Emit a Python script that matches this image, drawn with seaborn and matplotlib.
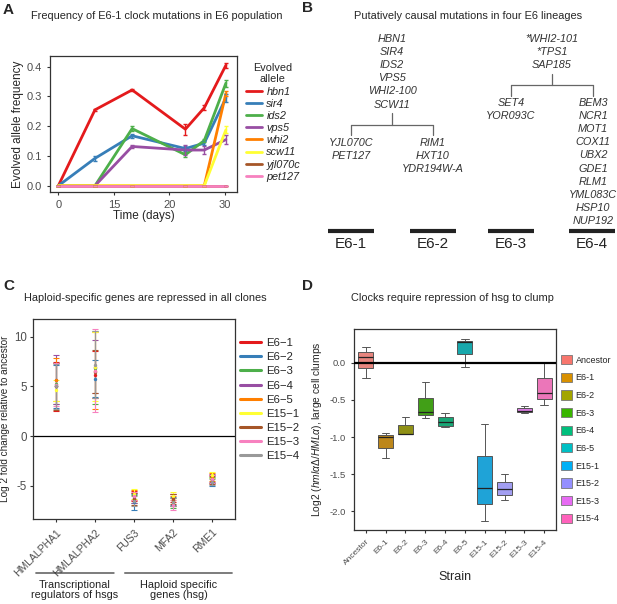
import numpy as np
import pandas as pd
import seaborn as sns
import matplotlib.pyplot as plt
from matplotlib.lines import Line2D
from matplotlib.patches import Patch

# ---- panel A: allele frequencies over time ----
time_labels = ['0', '15', '20', '30']
time_pos = [0, 0.66, 1.33, 2.29, 2.63, 3.02]  # sampling points on the tick-index scale
alleles = ['hbn1', 'sir4', 'ids2', 'vps5', 'whi2', 'scw11', 'yjl070c', 'pet127']
freq_hbn1 = [0, 0.255, 0.322, 0.190, 0.262, 0.405]
freq_sir4 = [0, 0.092, 0.168, 0.125, 0.143, 0.295]
freq_ids2 = [0, 0, 0.192, 0.104, 0.152, 0.345]
freq_vps5 = [0, 0, 0.132, 0.120, 0.120, 0.155]
freq_whi2 = [0, 0, 0, 0, 0, 0.310]
freq_scw11 = [0, 0, 0, 0, 0, 0.188]
freq_yjl070c = [0, 0, 0, 0, 0, 0]
freq_pet127 = [0, 0, 0, 0, 0, 0]
err_hbn1 = [0, 0.004, 0.004, 0.018, 0.008, 0.009]
err_sir4 = [0, 0.009, 0.007, 0.008, 0.006, 0.013]
err_ids2 = [0, 0, 0.008, 0.008, 0.005, 0.012]
err_vps5 = [0, 0, 0.004, 0.016, 0.012, 0.015]
err_whi2 = [0, 0, 0, 0, 0, 0.010]
err_scw11 = [0, 0, 0, 0, 0, 0.012]
err_yjl070c = [0, 0, 0, 0, 0, 0]
err_pet127 = [0, 0, 0, 0, 0, 0]

# ---- panel B: mutations per lineage ----
b_shared_12 = ['HBN1', 'SIR4', 'IDS2', 'VPS5', 'WHI2-100', 'SCW11']
b_e6_1 = ['YJL070C', 'PET127']
b_e6_2 = ['RIM1', 'HXT10', 'YDR194W-A']
b_shared_34 = ['*WHI2-101', '*TPS1', 'SAP185']
b_e6_3 = ['SET4', 'YOR093C']
b_e6_4 = ['BEM3', 'NCR1', 'MOT1', 'COX11', 'UBX2', 'GDE1', 'RLM1', 'YML083C', 'HSP10', 'NUP192']
lineages = ['E6-1', 'E6-2', 'E6-3', 'E6-4']

# ---- panel C: log2 fold change (mean, error) per clone ----
genes = ['HMLALPHA1', 'HMLALPHA2', 'FUS3', 'MFA2', 'RME1']
clones = ['E6-1', 'E6-2', 'E6-3', 'E6-4', 'E6-5', 'E15-1', 'E15-2', 'E15-3', 'E15-4']
lfc_mean = {
    'E6-1':  [5.0, 6.2, -6.0, -6.2, -4.3],
    'E6-2':  [5.0, 5.8, -6.6, -6.5, -4.6],
    'E6-3':  [5.3, 6.9, -6.3, -6.7, -4.4],
    'E6-4':  [5.7, 7.0, -6.2, -6.4, -4.2],
    'E6-5':  [5.7, 6.6, -5.9, -6.5, -4.1],
    'E15-1': [4.6, 7.0, -5.8, -6.0, -3.9],
    'E15-2': [5.0, 6.5, -6.3, -6.3, -4.4],
    'E15-3': [5.2, 6.6, -6.0, -6.9, -4.3],
    'E15-4': [5.0, 7.2, -6.5, -6.6, -4.6],
}
lfc_err = {
    'E6-1':  [2.5, 2.4, 0.5, 0.4, 0.4],
    'E6-2':  [2.2, 1.9, 0.8, 0.4, 0.4],
    'E6-3':  [2.1, 3.7, 0.4, 0.5, 0.3],
    'E6-4':  [2.5, 2.7, 0.5, 0.6, 0.4],
    'E6-5':  [2.2, 3.9, 0.5, 0.5, 0.4],
    'E15-1': [1.1, 3.5, 0.5, 0.4, 0.3],
    'E15-2': [2.4, 2.2, 0.6, 0.5, 0.4],
    'E15-3': [2.2, 4.2, 0.4, 0.5, 0.4],
    'E15-4': [2.3, 3.4, 0.5, 0.4, 0.3],
}

# ---- panel D: clumping ratio per strain (5 replicates each) ----
strains = ['Ancestor', 'E6-1', 'E6-2', 'E6-3', 'E6-4', 'E6-5', 'E15-1', 'E15-2', 'E15-3', 'E15-4']
clump_ratio = {
    'Ancestor': [-0.207, -0.068, 0.080, 0.149, 0.210],
    'E6-1':     [-1.280, -1.140, -1.000, -0.970, -0.946],
    'E6-2':     [-0.962, -0.962, -0.955, -0.840, -0.730],
    'E6-3':     [-0.740, -0.700, -0.667, -0.470, -0.260],
    'E6-4':     [-0.870, -0.847, -0.797, -0.734, -0.675],
    'E6-5':     [-0.058, 0.113, 0.280, 0.300, 0.324],
    'E15-1':    [-2.130, -1.900, -1.690, -1.250, -0.820],
    'E15-2':    [-1.850, -1.780, -1.700, -1.610, -1.500],
    'E15-3':    [-0.680, -0.660, -0.650, -0.608, -0.577],
    'E15-4':    [-0.570, -0.490, -0.400, -0.200, 0.000],
}

set1 = ['#E41A1C', '#377EB8', '#4DAF4A', '#984EA3', '#FF7F00',
        '#FFFF33', '#A65628', '#F781BF', '#999999']
gg10 = ['#F8766D', '#D89000', '#A3A500', '#39B600', '#00BF7D',
        '#00BFC4', '#00B0F6', '#9590FF', '#E76BF3', '#FF62BC']

sns.set_style('ticks')
plt.rcParams['font.family'] = ['Liberation Sans', 'DejaVu Sans']
plt.rcParams['mathtext.fontset'] = 'custom'
plt.rcParams['mathtext.rm'] = 'Liberation Sans'
plt.rcParams['mathtext.it'] = 'Liberation Sans:italic'
plt.rcParams['axes.edgecolor'] = '#333333'
plt.rcParams['xtick.color'] = '#333333'
plt.rcParams['ytick.color'] = '#333333'
plt.rcParams['xtick.labelcolor'] = '#4D4D4D'
plt.rcParams['ytick.labelcolor'] = '#4D4D4D'
plt.rcParams['xtick.major.size'] = 2.5
plt.rcParams['ytick.major.size'] = 2.5

W, H = 617, 604
fig = plt.figure(figsize=(W / 100, H / 100), dpi=100)


def add_ax(l, t, r, b):
    return fig.add_axes([l / W, 1 - b / H, (r - l) / W, (b - t) / H])


def frame(ax):
    for s in ax.spines.values():
        s.set_visible(True)
        s.set_linewidth(0.9)


# ---------- A ----------
axA = add_ax(50, 56, 237, 192)
freqs = [freq_hbn1, freq_sir4, freq_ids2, freq_vps5, freq_whi2, freq_scw11, freq_yjl070c, freq_pet127]
errs = [err_hbn1, err_sir4, err_ids2, err_vps5, err_whi2, err_scw11, err_yjl070c, err_pet127]
dfA = pd.DataFrame([
    {'allele': a, 'time': t, 'freq': f, 'err': e}
    for a, fs, es in zip(alleles, freqs, errs)
    for t, f, e in zip(time_pos, fs, es)
])
palA = dict(zip(alleles, set1[:8]))
sns.lineplot(data=dfA, x='time', y='freq', hue='allele', palette=palA,
             linewidth=2, legend=False, ax=axA)
for a in alleles:
    d = dfA[dfA.allele == a]
    axA.errorbar(d.time, d.freq, yerr=d.err, fmt='none', ecolor=palA[a],
                 elinewidth=1, capsize=1.5, capthick=1)
axA.set_xlim(-0.15, 3.22)
axA.set_ylim(-0.021, 0.436)
axA.set_xticks(range(4))
axA.set_xticklabels(time_labels)
axA.set_yticks([0, 0.1, 0.2, 0.3, 0.4])
axA.tick_params(labelsize=8, width=0.8)
axA.set_xlabel('Time (days)', fontsize=8.5, labelpad=0)
axA.set_ylabel('Evolved allele frequency', fontsize=8.5, labelpad=2)
frame(axA)
handlesA = [Line2D([], [], color=palA[a], lw=2) for a in alleles]
legA = fig.legend(handlesA, alleles, title='Evolved\nallele', frameon=False,
                  loc='upper left', bbox_to_anchor=(236 / W, 1 - 53 / H),
                  prop={'style': 'italic', 'size': 7.8}, title_fontsize=7.8,
                  handlelength=1.5, handletextpad=0.4, labelspacing=0.2)
legA.get_title().set_multialignment('center')
fig.text(3 / W, 1 - 10 / H, 'A', fontsize=11, fontweight='bold', va='center')
fig.text(157 / W, 1 - 16 / H, 'Frequency of E6-1 clock mutations in E6 population',
         fontsize=7.9, ha='center', va='center')

# ---------- B ----------
axB = add_ax(300, 0, 617, 300)
axB.set_xlim(300, 617)
axB.set_ylim(300, 0)
axB.axis('off')
step = 13.1
tree_col = '#666666'


def gene_block(names, x, y0):
    for i, g in enumerate(names):
        axB.text(x, y0 + i * step, g, ha='center', va='center',
                 fontsize=7.8, style='italic', color='#333333')


def fork(x, xl, xr, y_top, y_mid, y_bot):
    axB.plot([x, x], [y_top, y_mid], color=tree_col, lw=0.9)
    axB.plot([xl, xr], [y_mid, y_mid], color=tree_col, lw=0.9)
    axB.plot([xl, xl], [y_mid, y_bot], color=tree_col, lw=0.9)
    axB.plot([xr, xr], [y_mid, y_bot], color=tree_col, lw=0.9)


gene_block(b_shared_12, 392, 39)
fork(392, 351, 433, 113, 125, 135)
gene_block(b_e6_1, 351, 143)
gene_block(b_e6_2, 433, 143)
gene_block(b_shared_34, 552, 39)
fork(552, 511, 593, 74, 85, 96)
gene_block(b_e6_3, 511, 103)
gene_block(b_e6_4, 593, 103)
for xc, lab in zip([351, 433, 511, 592], lineages):
    axB.plot([xc - 23, xc + 23], [231, 231], color='#222222', lw=3, solid_capstyle='butt')
    axB.text(xc, 244, lab, ha='center', va='center', fontsize=11, color='#222222')
fig.text(302 / W, 1 - 8 / H, 'B', fontsize=11, fontweight='bold', va='center')
fig.text(468 / W, 1 - 16 / H, 'Putatively causal mutations in four E6 lineages',
         fontsize=7.9, ha='center', va='center')

# ---------- C ----------
axC = add_ax(33, 319, 235, 519)
xpos = np.arange(len(genes))
for c, col in zip(clones, set1):
    axC.errorbar(xpos, lfc_mean[c], yerr=lfc_err[c], fmt='none', ecolor=col,
                 elinewidth=0.8, capsize=2, capthick=0.8)
    sns.scatterplot(x=xpos, y=lfc_mean[c], color=col, s=6, linewidth=0, ax=axC, zorder=3)
axC.axhline(0, color='black', lw=0.9)
axC.set_xlim(-0.6, 4.6)
axC.set_ylim(-8.35, 11.8)
axC.set_xticks(xpos)
axC.set_xticklabels(genes, rotation=45, ha='right', rotation_mode='anchor', fontsize=7.5)
axC.set_yticks([-5, 0, 5, 10])
axC.set_yticklabels(['-5', '0', '5', '10'])
axC.tick_params(axis='y', labelsize=8.3, width=0.8, pad=2)
axC.tick_params(axis='x', width=0.8)
axC.set_ylabel('Log 2 fold change relative to ancestor', fontsize=7.2, labelpad=3)
frame(axC)
handlesC = [Line2D([], [], color=col, lw=2.2) for col in set1]
fig.legend(handlesC, [c.replace('-', '\u2212') for c in clones], frameon=False,
           loc='upper left', bbox_to_anchor=(230 / W, 1 - 328 / H),
           fontsize=8.2, handlelength=1.8, handletextpad=0.5, labelspacing=0.36)
fig.text(3 / W, 1 - 286 / H, 'C', fontsize=11, fontweight='bold', va='center')
fig.text(145 / W, 1 - 298 / H, 'Haploid-specific genes are repressed in all clones',
         fontsize=7.9, ha='center', va='center')
# bracket annotations under the gene labels
axC.annotate('', xy=(0, -0.27), xytext=(0.415, -0.27), xycoords='axes fraction',
             arrowprops=dict(arrowstyle='-', color='#333333', lw=0.9))
axC.annotate('', xy=(0.44, -0.27), xytext=(1.0, -0.27), xycoords='axes fraction',
             arrowprops=dict(arrowstyle='-', color='#333333', lw=0.9))
axC.text(0.205, -0.305, 'Transcriptional\nregulators of hsgs', transform=axC.transAxes,
         ha='center', va='top', fontsize=7.8, color='#222222', linespacing=1.05)
axC.text(0.72, -0.305, 'Haploid specific\ngenes (hsg)', transform=axC.transAxes,
         ha='center', va='top', fontsize=7.8, color='#222222', linespacing=1.05)

# ---------- D ----------
axD = add_ax(354, 329, 556, 530)
dfD = pd.DataFrame([{'strain': s, 'ratio': v} for s in strains for v in clump_ratio[s]])
sns.boxplot(data=dfD, x='strain', y='ratio', hue='strain', order=strains,
            palette=gg10, width=0.75, linewidth=0.7, linecolor='#555555',
            whis=1.5, fliersize=0, legend=False, ax=axD,
            medianprops={'color': '#222222', 'linewidth': 0.9})
axD.axhline(0, color='black', lw=1.6, zorder=5)
axD.set_xlim(-0.6, 9.6)
axD.set_ylim(-2.25, 0.455)
axD.set_yticks([-2.0, -1.5, -1.0, -0.5, 0.0])
axD.set_yticklabels(['-2.0', '-1.5', '-1.0', '-0.5', '0.0'])
axD.set_xticks(range(len(strains)))
axD.set_xticklabels(strains, rotation=45, ha='right', rotation_mode='anchor', fontsize=6)
axD.tick_params(axis='y', labelsize=6.8, width=0.8)
axD.tick_params(axis='x', width=0.8)
axD.set_xlabel('Strain', fontsize=9, labelpad=3)
axD.set_ylabel(r'Log2 ($hml\alpha\Delta/HML\alpha$), large cell clumps', fontsize=7.4, labelpad=4)
frame(axD)
handlesD = [Patch(facecolor=col, edgecolor='#777777', lw=0.6) for col in gg10]
fig.legend(handlesD, strains, frameon=False, loc='upper left',
           bbox_to_anchor=(553 / W, 1 - 347 / H), fontsize=6.5,
           handlelength=1.2, handleheight=1.2, handletextpad=0.4, labelspacing=0.88)
fig.text(302 / W, 1 - 286 / H, 'D', fontsize=11, fontweight='bold', va='center')
fig.text(452 / W, 1 - 298 / H, 'Clocks require repression of hsg to clump',
         fontsize=7.9, ha='center', va='center')

fig.savefig('out.png', dpi=100)
